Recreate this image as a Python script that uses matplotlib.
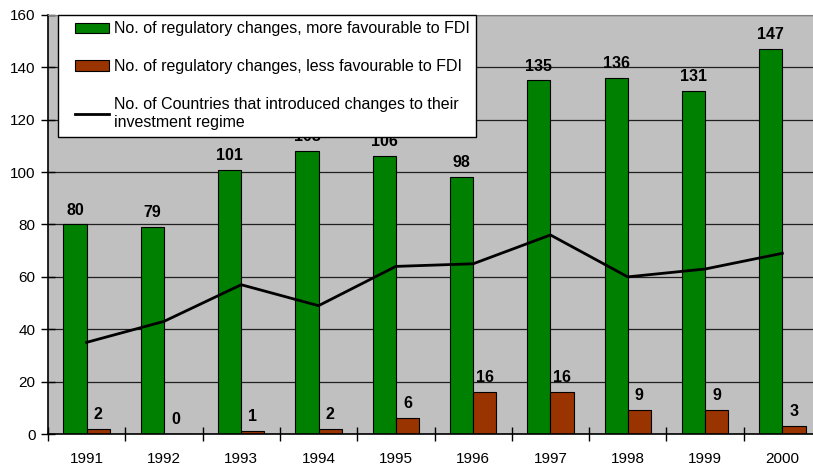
import numpy as np
import matplotlib
matplotlib.use("Agg")
import matplotlib.pyplot as plt
from matplotlib.ticker import FixedLocator, NullFormatter
from matplotlib.legend_handler import HandlerPatch, HandlerLine2D

plt.rcParams['font.family'] = ['Liberation Sans', 'DejaVu Sans']

years = ["1991", "1992", "1993", "1994", "1995", "1996", "1997", "1998", "1999", "2000"]
more_fav = [80, 79, 101, 108, 106, 98, 135, 136, 131, 147]
less_fav = [2, 0, 1, 2, 6, 16, 16, 9, 9, 3]
countries = [35, 43, 57, 49, 64, 65, 76, 60, 63, 69]

label_more = "No. of regulatory changes, more favourable to FDI"
label_less = "No. of regulatory changes, less favourable to FDI"
label_countries = "No. of Countries that introduced changes to their\ninvestment regime"

GREEN = "#008000"
BROWN = "#993300"
BG = "#C0C0C0"


class PaddedLine(HandlerLine2D):
    # keep the line flush with the right end of the handle box
    def get_xdata(self, legend, xdescent, ydescent, width, height, fontsize):
        xd = np.array([-xdescent, -xdescent + width])
        return xd, xd


def draw():
    fig = plt.figure(figsize=(8.13, 4.68), dpi=100)
    ax = fig.add_axes([48 / 813, 1 - 434 / 468, 773 / 813, 419 / 468])
    ax.set_facecolor(BG)

    x = np.arange(len(years))
    w = 0.3
    b1 = ax.bar(x - w / 2, more_fav, w, color=GREEN, edgecolor="black", linewidth=0.8,
                label=label_more, zorder=2)
    b2 = ax.bar(x + w / 2, less_fav, w, color=BROWN, edgecolor="black", linewidth=0.8,
                label=label_less, zorder=2)
    ln, = ax.plot(x, countries, color="black", linewidth=2, label=label_countries, zorder=3)

    for rect, v in zip(b1, more_fav):
        ax.annotate(str(v), (rect.get_x() + rect.get_width() / 2, v), xytext=(0, 5),
                    textcoords="offset points", ha="center", va="bottom",
                    fontsize=11.5, fontweight="bold", zorder=4)
    for rect, v in zip(b2, less_fav):
        ax.annotate(str(v), (rect.get_x() + rect.get_width() / 2, v), xytext=(0, 5),
                    textcoords="offset points", ha="center", va="bottom",
                    fontsize=11.5, fontweight="bold", zorder=4)

    ax.set_xlim(-0.5, len(years) - 0.5)
    ax.set_ylim(0, 160)
    ax.set_yticks(range(0, 161, 20))
    ax.yaxis.grid(True, color="#202020", linewidth=0.9)
    ax.set_axisbelow(True)

    ax.set_xticks(x)
    ax.set_xticklabels(years, fontsize=11)
    ax.xaxis.set_minor_locator(FixedLocator(np.arange(-0.5, len(years), 1.0)))
    ax.xaxis.set_minor_formatter(NullFormatter())
    ax.tick_params(axis="x", which="major", length=0, pad=13)
    ax.tick_params(axis="x", which="minor", length=10, direction="inout", width=1)
    ax.tick_params(axis="y", length=10, direction="inout", width=1, labelsize=11, pad=4)

    for s in ["left", "bottom"]:
        ax.spines[s].set_color("black")
        ax.spines[s].set_linewidth(1.2)
    ax.spines["top"].set_color("#808080")
    ax.spines["right"].set_visible(False)

    fs = 11.5
    h1, h2 = b1.patches[0], b2.patches[0]
    leg = ax.legend(handles=[h1, h2, ln], labels=[label_more, label_less, label_countries],
                    loc="upper left",
                    bbox_to_anchor=(10 / 773, 1.0), borderaxespad=0,
                    fontsize=fs, frameon=True, fancybox=False, framealpha=1,
                    edgecolor="black", labelspacing=1.42, handlelength=2.82,
                    handleheight=0.6, handletextpad=0.3, borderpad=0.4,
                    handler_map={h1: HandlerPatch(xpad=0.65),
                                 h2: HandlerPatch(xpad=0.65),
                                 ln: PaddedLine(xpad=0.65)})
    leg.get_frame().set_linewidth(1)
    leg.get_texts()[2].set_linespacing(1.3)
    leg.set_zorder(10)

    fig.savefig("out.png", dpi=100)


if __name__ == "__main__":
    draw()
